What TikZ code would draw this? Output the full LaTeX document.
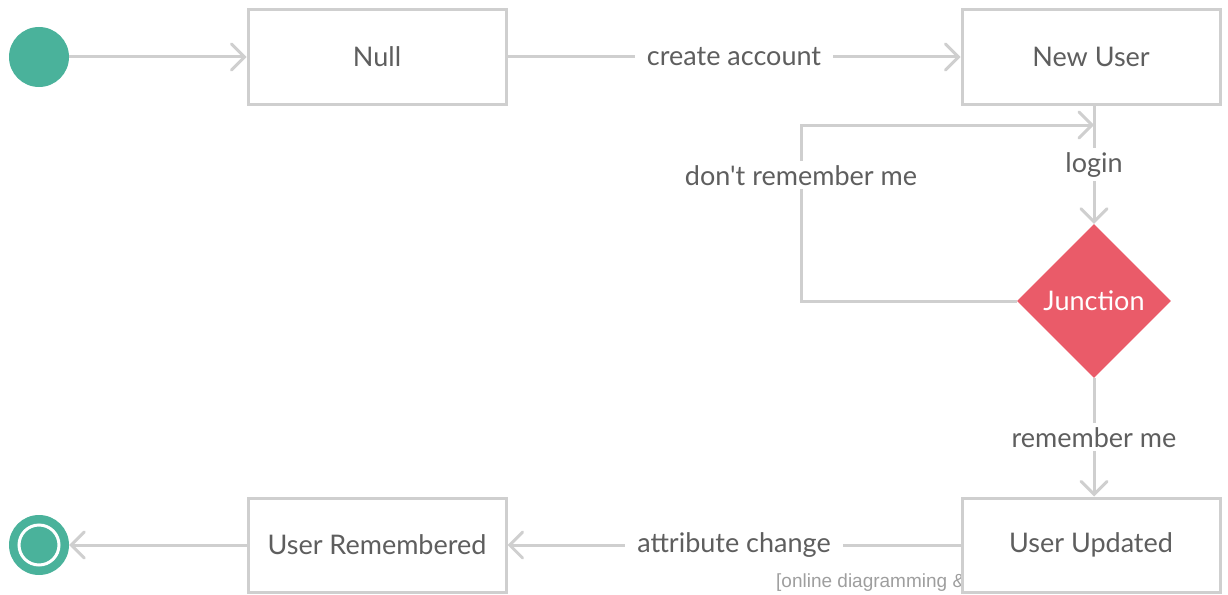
\documentclass[tikz,border=0pt]{standalone}
\usepackage{fontspec}
\setmainfont{Lato}[Ligatures=TeXOff]
\newfontfamily\markfont{Liberation Sans}
\usetikzlibrary{shapes.geometric,arrows.meta,calc}
\definecolor{wire}{HTML}{CFCFCF}
\definecolor{ink}{HTML}{5E5E5E}
\definecolor{teal}{HTML}{4AB29B}
\definecolor{rose}{HTML}{EA5B69}
\tikzset{
  statebox/.style={draw=wire, line width=3pt, fill=white, rectangle,
    minimum width=258pt, minimum height=94pt, inner sep=0pt,
    text=ink, font=\fontsize{27}{32}\selectfont},
  arr/.style={draw=wire, line width=3pt,
    -{Straight Barb[length=13pt,width=26pt,line cap=round]}},
  lbl/.style={fill=white, text=ink, inner xsep=12pt, inner ysep=4pt,
    font=\fontsize{27}{32}\selectfont},
}
\begin{document}
\begin{tikzpicture}[x=1pt, y=-1pt]
\useasboundingbox (0,0) rectangle (1228,594);

% initial and final pseudo-states
\node (start) [circle, fill=teal, minimum size=60pt, inner sep=0pt] at (39,57) {};
\node (finish) [circle, fill=teal, minimum size=60pt, inner sep=0pt] at (39,545) {};
\node (finishring) [circle, draw=white, line width=3pt, minimum size=40pt, inner sep=0pt] at (finish) {};

% watermark, partly covered by the state box drawn after it
\node (mark) [anchor=west, text=black!38, inner sep=0pt,
  font=\markfont\fontsize{19}{22}\selectfont] at (776,583) {[online diagramming \&};

% states
\node (null) [statebox] at (377,57) {Null};
\node (newuser) [statebox] at (1091,57) {New User};
\node (updated) [statebox] at (1091,545) {User Updated};
\node (remembered) [statebox] at (377,545) {User Remembered};

% junction
\node (junction) [diamond, aspect=1, fill=rose, minimum width=154pt,
  minimum height=154pt, inner sep=0pt, text=white,
  font=\fontsize{27}{32}\selectfont] at (1094,301) {Junction};

% transitions
\draw[arr] (start) -- (null);
\draw[arr] (null) -- node[lbl] {create account} (newuser);
\coordinate (nubottom) at (junction |- newuser.south);
\coordinate (loopend) at (1094,125);
\coordinate (loopcorner) at (801,125);
\draw[arr] (nubottom) -- node[lbl] {login} (junction.north);
\draw[arr] (junction.west) -| node[lbl, pos=0.857] {don't remember me} (loopcorner) -- (loopend);
\draw[arr] (junction.south) -- node[lbl] {remember me} (updated.north -| junction);
\draw[arr] (updated) -- node[lbl] {attribute change} (remembered);
\draw[arr] (remembered) -- (finish);
\end{tikzpicture}
\end{document}
